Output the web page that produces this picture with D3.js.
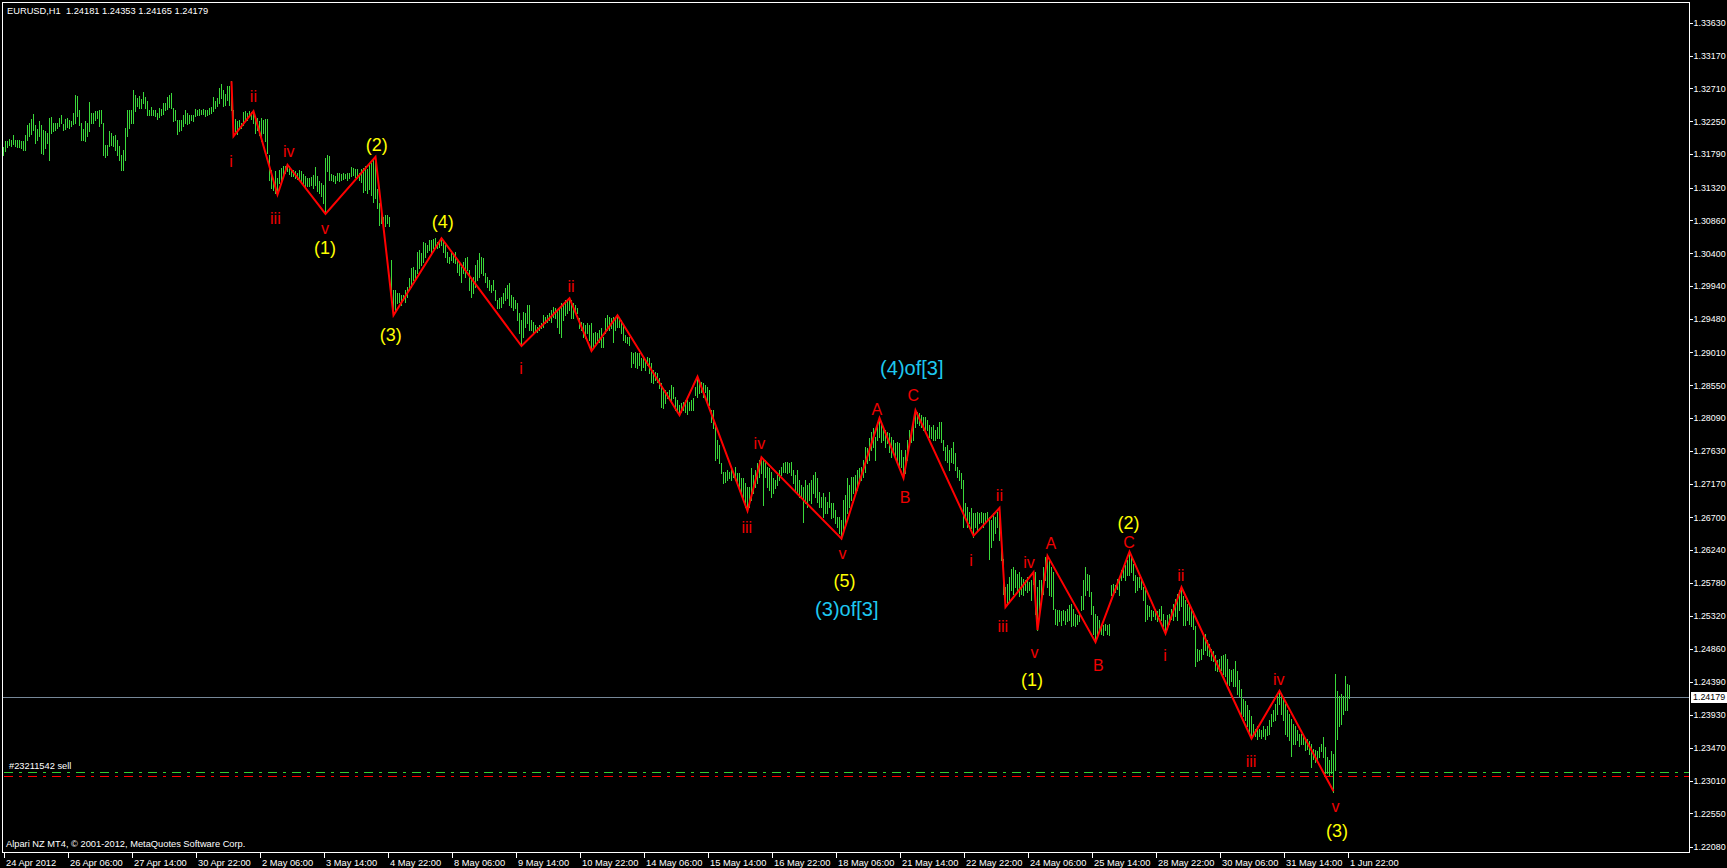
<!DOCTYPE html>
<html>
<head>
<meta charset="utf-8">
<script src="https://cdn.jsdelivr.net/npm/d3@7"></script>
<style>
html,body{margin:0;padding:0;background:#000;overflow:hidden}
text{font-family:"Liberation Sans",Arial,sans-serif}
</style>
</head>
<body>
<svg id="chart" width="1727" height="868"></svg>
<script>
// ---- DATA (hourly EURUSD bars, prices x 10000, first bar = 24 Apr 2012 22:00) ----
const barHighs = [
13189,13197,13197,13200,13199,13205,13199,13198,13199,13197,
13197,13205,13219,13222,13228,13235,13220,13214,13225,13220,
13213,13211,13208,13229,13231,13223,13222,13223,13229,13233,
13221,13228,13229,13226,13225,13236,13262,13260,13241,13223,
13214,13225,13222,13252,13236,13237,13239,13239,13241,13241,
13222,13192,13191,13211,13208,13204,13206,13199,13190,13178,
13185,13215,13241,13240,13240,13269,13261,13257,13260,13256,
13266,13259,13253,13241,13245,13241,13240,13236,13243,13242,
13251,13250,13259,13262,13264,13243,13241,13227,13227,13227,
13234,13241,13236,13233,13233,13234,13242,13241,13242,13241,
13242,13241,13240,13243,13245,13259,13253,13257,13271,13277,
13269,13263,13275,13275,13281,13241,13228,13225,13226,13223,
13238,13239,13236,13239,13238,13239,13232,13229,13225,13229,
13227,13228,13228,13178,13157,13143,13155,13145,13157,13159,
13162,13162,13164,13162,13157,13157,13155,13152,13157,13155,
13151,13148,13145,13145,13147,13150,13161,13148,13141,13139,
13136,13173,13178,13176,13151,13150,13148,13152,13152,13151,
13152,13151,13152,13153,13161,13159,13158,13158,13152,13158,
13160,13162,13158,13163,13166,13170,13175,13130,13110,13105,
13091,13094,13094,13091,13030,12989,12989,12984,12984,12982,
12982,12989,12993,13005,13019,13021,13016,13042,13045,13040,
13056,13054,13052,13058,13059,13060,13061,13056,13059,13061,
13059,13052,13042,13035,13040,13040,13042,13031,13028,13021,
13028,13033,13035,13016,13002,13007,13023,13031,13040,13035,
13033,13012,13007,13002,12995,13002,12989,12974,12977,12979,
12984,12991,12995,12998,12982,12979,12974,12970,12956,12946,
12958,12956,12967,12967,12946,12944,12939,12937,12939,12942,
12953,12951,12953,12956,12960,12965,12963,12960,12963,12970,
12970,12974,12974,12977,12974,12970,12967,12963,12949,12944,
12942,12939,12942,12939,12942,12928,12930,12928,12932,12935,
12923,12949,12953,12951,12949,12951,12949,12953,12949,12946,
12939,12925,12923,12923,12902,12900,12902,12900,12900,12893,
12895,12890,12895,12893,12886,12876,12874,12872,12865,12858,
12851,12848,12846,12848,12855,12853,12839,12834,12827,12830,
12832,12834,12834,12832,12834,12837,12853,12867,12858,12860,
12858,12855,12853,12848,12820,12820,12797,12778,12771,12746,
12734,12734,12736,12734,12736,12734,12741,12732,12732,12725,
12725,12718,12713,12713,12739,12729,12736,12746,12750,12754,
12752,12750,12741,12739,12734,12725,12722,12729,12736,12741,
12746,12748,12748,12746,12748,12736,12729,12736,12722,12715,
12713,12722,12715,12718,12722,12729,12734,12725,12706,12699,
12704,12699,12692,12706,12690,12690,12680,12671,12671,12666,
12694,12701,12725,12715,12727,12727,12729,12736,12739,12741,
12750,12769,12767,12781,12790,12795,12783,12804,12809,12804,
12797,12792,12790,12788,12783,12778,12774,12776,12774,12764,
12755,12764,12778,12792,12792,12802,12820,12818,12816,12813,
12811,12811,12806,12799,12797,12799,12792,12797,12804,12804,
12778,12769,12771,12764,12767,12776,12760,12741,12736,12732,
12722,12690,12685,12678,12683,12676,12676,12678,12676,12678,
12676,12676,12678,12671,12666,12676,12671,12678,12683,12638,
12612,12573,12577,12587,12598,12601,12596,12591,12594,12587,
12584,12582,12587,12580,12582,12594,12594,12573,12582,12582,
12601,12615,12617,12610,12601,12594,12542,12540,12540,12538,
12540,12538,12542,12547,12549,12542,12535,12533,12535,12559,
12582,12601,12591,12589,12566,12545,12535,12531,12526,12521,
12519,12521,12519,12521,12575,12577,12575,12584,12587,12596,
12598,12603,12610,12622,12615,12605,12589,12587,12587,12584,
12573,12568,12547,12545,12540,12538,12542,12538,12542,12545,
12535,12526,12533,12535,12542,12549,12556,12563,12568,12573,
12559,12554,12549,12545,12542,12538,12517,12486,12484,12486,
12503,12507,12498,12493,12486,12482,12477,12470,12472,12475,
12477,12479,12472,12458,12456,12458,12468,12454,12442,12430,
12416,12412,12407,12400,12391,12381,12374,12377,12374,12372,
12377,12374,12377,12386,12395,12400,12409,12419,12428,12423,
12416,12409,12400,12395,12388,12381,12377,12372,12367,12367,
12367,12360,12360,12356,12353,12346,12344,12342,12348,12353,
12362,12348,12334,12330,12342,12339,12451,12426,12419,12423,
12419,12447,12437,12435
];
const barLows = [
13178,13183,13189,13192,13190,13193,13190,13189,13189,13187,
13185,13184,13199,13204,13207,13212,13194,13199,13204,13180,
13179,13187,13194,13171,13208,13211,13213,13215,13218,13222,
13213,13214,13217,13215,13218,13221,13222,13232,13220,13198,
13199,13197,13204,13211,13223,13222,13227,13229,13218,13222,
13178,13175,13178,13190,13192,13190,13185,13178,13171,13157,
13156,13171,13204,13215,13222,13223,13239,13246,13243,13243,
13250,13244,13234,13233,13234,13233,13232,13228,13231,13233,
13235,13241,13242,13245,13243,13225,13227,13207,13211,13213,
13218,13223,13221,13222,13227,13225,13232,13234,13234,13235,
13235,13232,13234,13235,13236,13239,13243,13246,13250,13257,
13246,13248,13255,13247,13241,13204,13211,13207,13214,13215,
13220,13225,13227,13232,13228,13222,13208,13213,13206,13197,
13208,13197,13180,13143,13131,13129,13124,13122,13138,13141,
13148,13152,13155,13151,13148,13148,13145,13144,13142,13138,
13136,13134,13134,13134,13136,13131,13136,13127,13124,13120,
13110,13095,13155,13143,13142,13141,13139,13143,13141,13143,
13144,13145,13143,13145,13148,13150,13147,13145,13143,13140,
13126,13128,13124,13130,13122,13112,13117,13103,13080,13082,
13080,13078,13082,13078,12975,12953,12960,12970,12972,12967,
12975,12972,12979,12989,12993,13002,13005,13012,13019,13024,
13028,13035,13042,13045,13040,13047,13049,13047,13049,13052,
13042,13035,13028,13026,13031,13028,13026,13014,13010,13000,
13012,13007,13017,12989,12979,12984,12993,13002,13007,13012,
13010,13000,12993,12989,12986,12989,12975,12963,12963,12965,
12970,12975,12977,12967,12965,12960,12963,12946,12928,12910,
12923,12937,12942,12932,12932,12928,12930,12930,12932,12935,
12937,12942,12944,12946,12944,12951,12949,12937,12928,12923,
12946,12953,12956,12960,12949,12949,12956,12956,12935,12932,
12923,12921,12928,12918,12903,12907,12914,12918,12916,12909,
12909,12928,12932,12932,12935,12916,12932,12937,12937,12928,
12918,12916,12914,12911,12881,12886,12881,12879,12883,12876,
12881,12876,12883,12872,12860,12858,12862,12860,12851,12825,
12823,12830,12837,12839,12834,12837,12820,12818,12813,12817,
12820,12818,12815,12820,12820,12820,12841,12839,12844,12846,
12839,12846,12830,12827,12804,12795,12750,12753,12746,12732,
12718,12720,12722,12725,12722,12727,12722,12715,12711,12704,
12699,12685,12678,12685,12694,12704,12713,12718,12727,12732,
12687,12727,12713,12708,12699,12704,12711,12715,12722,12729,
12734,12734,12732,12734,12729,12718,12708,12706,12699,12699,
12664,12690,12685,12694,12690,12704,12699,12692,12685,12685,
12671,12676,12676,12685,12669,12671,12662,12657,12648,12640,
12652,12662,12676,12685,12694,12704,12706,12708,12718,12722,
12727,12734,12746,12750,12764,12769,12750,12778,12783,12776,
12778,12769,12774,12762,12755,12760,12755,12746,12739,12741,
12725,12732,12750,12774,12776,12778,12797,12802,12799,12797,
12792,12790,12792,12783,12781,12778,12778,12781,12781,12776,
12764,12750,12748,12736,12748,12746,12736,12727,12722,12711,
12657,12671,12657,12662,12655,12643,12657,12652,12662,12664,
12657,12662,12666,12612,12629,12638,12648,12657,12638,12610,
12563,12545,12549,12554,12568,12563,12573,12568,12559,12563,
12561,12568,12566,12568,12554,12577,12535,12512,12540,12554,
12563,12582,12573,12561,12559,12542,12521,12519,12524,12519,
12526,12521,12524,12526,12517,12519,12517,12521,12524,12540,
12542,12561,12568,12559,12535,12507,12495,12507,12510,12507,
12505,12512,12507,12505,12561,12563,12566,12570,12561,12582,
12587,12582,12589,12589,12594,12582,12566,12568,12573,12570,
12554,12524,12528,12531,12526,12531,12528,12524,12531,12526,
12517,12507,12514,12521,12528,12526,12531,12526,12540,12545,
12519,12519,12526,12521,12517,12514,12461,12468,12470,12472,
12479,12484,12477,12475,12470,12468,12456,12454,12454,12456,
12451,12447,12437,12435,12440,12433,12433,12423,12419,12395,
12391,12386,12377,12367,12360,12365,12363,12360,12363,12361,
12363,12360,12365,12367,12377,12384,12386,12395,12409,12395,
12386,12367,12363,12358,12335,12353,12353,12358,12349,12353,
12353,12344,12346,12339,12320,12332,12327,12330,12334,12342,
12334,12311,12311,12309,12311,12285,12316,12360,12377,12381,
12395,12400,12400,12417
];
const priceScale = 10000;

// time-axis labels, one every 32 hourly bars
const timeLabels = ["24 Apr 2012","26 Apr 06:00","27 Apr 14:00","30 Apr 22:00","2 May 06:00","3 May 14:00",
  "4 May 22:00","8 May 06:00","9 May 14:00","10 May 22:00","14 May 06:00","15 May 14:00","16 May 22:00",
  "18 May 06:00","21 May 14:00","22 May 22:00","24 May 06:00","25 May 14:00","28 May 22:00","30 May 06:00",
  "31 May 14:00","1 Jun 22:00"];
const timeLabelStep = 32;

// price-axis tick labels
const priceTicks = [1.33630,1.33170,1.32710,1.32250,1.31790,1.31320,1.30860,1.30400,1.29940,1.29480,
  1.29010,1.28550,1.28090,1.27630,1.27170,1.26700,1.26240,1.25780,1.25320,1.24860,1.24390,1.23930,
  1.23470,1.23010,1.22550,1.22080];
const priceMin = 1.22080, priceMax = 1.33630;

const titleText = "EURUSD,H1  1.24181 1.24353 1.24165 1.24179";
const lastPrice = 1.24179;
const copyrightText = "Alpari NZ MT4, \u00A9 2001-2012, MetaQuotes Software Corp.";
const orderText = "#23211542 sell";
const orderLinePrices = [1.23124, 1.23075];   // green, red

// red Elliott-wave zigzag (bar index, price x 10000)
const waveBars   = [114,115,125,137,142,161,186,195,219,259,283,294,307,338,347,372,379,419,438,450,456,485,498,501,515,517,522,546,563,581,589,624,638,665];
const wavePrices = [13281,13204,13239,13122,13164,13095,13175,12953,13061,12910,12977,12903,12953,12813,12867,12679,12754,12640,12809,12725,12820,12644,12683,12544,12593,12512,12616,12495,12622,12507,12572,12360,12427,12286];

// wave labels (text, kind, bar index, price x 10000)
const labelTexts  = ["i","ii","iii","iv","v","(1)","(2)","(3)","(4)","i","ii","iii","iv","v","(5)","(3)of[3]","A","B","C","(4)of[3]","i","ii","iii","iv","v","(1)","A","B","C","(2)","i","ii","iii","iv","v","(3)"];
const labelKinds  = ["r","r","r","r","r","y","y","y","y","r","r","r","r","r","y","c","r","r","r","c","r","r","r","r","r","y","r","r","r","y","r","r","r","r","r","y"];
const labelBars   = [114,125.2,136.2,142.9,161,161,186.9,193.9,219.9,259,284,371.9,378.2,419.7,420.7,421.9,436.9,451,455.2,454.4,484,498.2,499.9,513,515.8,514.5,523.9,547.7,563,562.7,581,588.9,624,637.9,666.3,667];
const labelPrices = [13168,13260,13088,13182,13074,13047,13192,12925,13084,12879,12993,12655,12773,12619,12581,12541,12821,12698,12840,12879,12610,12701,12517,12607,12480,12442,12633,12463,12635,12662,12476,12588,12328,12442,12265,12230];

// ---- DRAWING ----
const svg = d3.select("#chart");
const W = 1727, H = 868;
const plotL = 2, plotT = 2, plotR = 1689, plotB = 852;

svg.append("rect").attr("width", W).attr("height", H).attr("fill", "#000");

const x = d3.scaleLinear().domain([0, barHighs.length - 1]).range([3, 3 + 2 * (barHighs.length - 1)]);
const y = d3.scaleLinear().domain([priceMin, priceMax]).range([847, 22.7]);

const kindColor = {r: "#f00000", y: "#ffff00", c: "#1ec8f0"};
const kindSize = {r: 16, y: 18, c: 20};
const barColor = "#3ad83a";

// order lines (dash-dot)
svg.selectAll("line.order").data(orderLinePrices).enter().append("line")
  .attr("class", "order")
  .attr("x1", 4).attr("x2", plotR)
  .attr("y1", d => Math.round(y(d)) + 0.5).attr("y2", d => Math.round(y(d)) + 0.5)
  .attr("stroke", (d, i) => i === 0 ? "#32cd32" : "#ff0000")
  .attr("stroke-width", 1)
  .attr("stroke-dasharray", "9,6,3,6")
  .attr("shape-rendering", "crispEdges");

svg.append("text").attr("x", 9).attr("y", Math.round(y(orderLinePrices[0])) - 3)
  .attr("fill", "#fff").attr("font-size", 9.3).text(orderText);

// current price line
svg.append("line")
  .attr("x1", plotL).attr("x2", plotR)
  .attr("y1", Math.round(y(lastPrice)) + 0.5).attr("y2", Math.round(y(lastPrice)) + 0.5)
  .attr("stroke", "#778899").attr("stroke-width", 1).attr("shape-rendering", "crispEdges");

// bars
svg.append("g").selectAll("line").data(barHighs).enter().append("line")
  .attr("x1", (d, i) => Math.round(x(i)) + 0.5)
  .attr("x2", (d, i) => Math.round(x(i)) + 0.5)
  .attr("y1", d => Math.round(y(d / priceScale)))
  .attr("y2", (d, i) => Math.max(Math.round(y(barLows[i] / priceScale)) + 1, Math.round(y(d / priceScale)) + 1))
  .attr("stroke", barColor).attr("stroke-width", 1).attr("shape-rendering", "crispEdges");

// zigzag
const zz = d3.line().x(d => x(d[0]) + 0.5).y(d => y(d[1] / priceScale));
svg.append("path").datum(waveBars.map((b, i) => [b, wavePrices[i]]))
  .attr("d", zz).attr("fill", "none").attr("stroke", "#ff0000").attr("stroke-width", 2)
  .attr("stroke-linejoin", "miter");

// wave labels
svg.append("g").selectAll("text").data(labelTexts).enter().append("text")
  .attr("x", (d, i) => x(labelBars[i]))
  .attr("y", (d, i) => y(labelPrices[i] / priceScale))
  .attr("text-anchor", "middle").attr("dominant-baseline", "central")
  .attr("font-size", (d, i) => kindSize[labelKinds[i]])
  .attr("fill", (d, i) => kindColor[labelKinds[i]])
  .text(d => d);

// frame
svg.append("rect").attr("x", plotL + 0.5).attr("y", plotT + 0.5)
  .attr("width", plotR - plotL).attr("height", plotB - plotT)
  .attr("fill", "none").attr("stroke", "#fff").attr("stroke-width", 1).attr("shape-rendering", "crispEdges");

// price axis
const yAxis = d3.axisRight(y).tickValues(priceTicks).tickSize(3).tickPadding(1).tickFormat(d3.format(".5f"));
const gy = svg.append("g").attr("transform", `translate(${plotR + 0.5},0)`).call(yAxis);
gy.select(".domain").remove();
gy.selectAll(".tick line").attr("stroke", "#fff").attr("shape-rendering", "crispEdges");
gy.selectAll(".tick text").attr("fill", "#fff").attr("font-size", 8.9)
  .attr("font-family", '"Liberation Sans",Arial,sans-serif');

// current price box
const cpY = Math.round(y(lastPrice));
svg.append("rect").attr("x", 1691).attr("y", cpY - 5).attr("width", 36).attr("height", 11).attr("fill", "#fff");
svg.append("text").attr("x", 1693).attr("y", cpY).attr("dominant-baseline", "central")
  .attr("fill", "#000").attr("font-size", 8.9).text(d3.format(".5f")(lastPrice));

// time axis
const tickBars = timeLabels.map((t, i) => i * timeLabelStep);
const xAxis = d3.axisBottom(x).tickValues(tickBars).tickSize(5).tickPadding(2)
  .tickFormat((d, i) => timeLabels[i]);
const gx = svg.append("g").attr("transform", `translate(0.5,${plotB + 0.5})`).call(xAxis);
gx.select(".domain").remove();
gx.selectAll(".tick line").attr("stroke", "#fff").attr("shape-rendering", "crispEdges");
gx.selectAll(".tick text").attr("fill", "#fff").attr("font-size", 9.3)
  .attr("text-anchor", "start").attr("x", 2)
  .attr("font-family", '"Liberation Sans",Arial,sans-serif');

// title and copyright
svg.append("text").attr("x", 7).attr("y", 14).attr("fill", "#fff").attr("font-size", 9.3)
  .style("white-space", "pre").text(titleText);
svg.append("text").attr("x", 6).attr("y", 847).attr("fill", "#fff").attr("font-size", 9.3)
  .text(copyrightText);
</script>
</body>
</html>
